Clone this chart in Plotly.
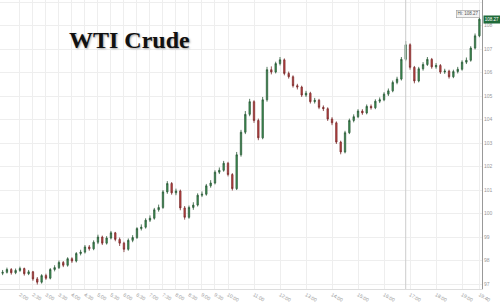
import plotly.graph_objects as go

# 10-minute bars; minute offsets from the first labelled time (2:00)
bar_minutes = list(range(-40, 1070, 10))

opens = [97.46,97.50,97.62,97.48,97.58,97.66,97.44,97.52,97.22,97.08,
         97.36,97.25,97.62,97.70,97.92,97.80,98.08,97.98,98.30,98.36,
         98.58,98.50,98.78,99.00,98.74,98.96,99.18,98.90,98.74,98.48,
         98.86,98.98,99.36,99.42,99.72,99.80,100.16,100.26,100.92,101.28,
         100.88,100.96,100.24,99.84,100.26,100.36,100.78,100.82,101.18,101.30,
         101.76,101.84,102.14,101.66,101.06,102.50,103.46,104.22,104.76,103.96,
         103.22,104.84,106.12,106.02,106.38,106.54,105.96,105.82,105.44,105.38,
         105.04,105.12,104.76,104.82,104.52,104.46,104.02,103.86,103.04,102.62,
         103.44,103.96,104.12,104.36,104.28,104.56,104.50,104.78,104.84,105.08,
         105.22,105.58,105.72,106.56,107.18,106.22,105.64,106.16,106.34,106.56,
         106.24,106.30,106.02,106.06,105.82,106.04,106.14,106.44,106.52,107.04,
         107.56]
highs = [97.60,97.70,97.68,97.66,97.74,97.70,97.60,97.56,97.30,97.42,
         97.44,97.68,97.80,98.00,97.98,98.14,98.14,98.36,98.46,98.66,
         98.66,98.86,99.10,99.06,99.04,99.26,99.22,98.98,98.80,98.94,
         99.08,99.42,99.54,99.80,99.92,100.24,100.38,101.00,101.38,101.34,
         101.06,101.02,100.32,100.34,100.48,100.86,100.94,101.26,101.42,101.84,
         101.96,102.24,102.20,101.72,102.62,103.56,104.36,104.88,104.82,104.04,
         104.96,106.24,106.26,106.46,106.66,106.60,106.04,105.88,105.52,105.44,
         105.22,105.18,104.92,104.88,104.60,104.52,104.10,103.92,103.10,103.52,
         104.04,104.22,104.44,104.44,104.64,104.64,104.86,104.94,105.16,105.32,
         105.66,105.82,106.66,107.34,107.24,106.28,106.24,106.44,106.66,106.62,
         106.40,106.36,106.16,106.12,106.12,106.24,106.52,106.64,107.12,107.66,
         108.32]
lows = [97.38,97.45,97.40,97.42,97.52,97.36,97.38,97.14,96.98,97.02,
        97.18,97.20,97.54,97.64,97.72,97.74,97.90,97.92,98.22,98.30,
        98.42,98.44,98.70,98.66,98.68,98.90,98.82,98.62,98.36,98.42,
        98.78,98.92,99.28,99.36,99.64,99.74,100.08,100.20,100.84,100.80,
        100.78,100.14,99.74,99.78,100.16,100.30,100.70,100.76,101.10,101.24,
        101.68,101.78,101.58,100.98,101.00,102.42,103.38,104.14,103.86,103.12,
        103.16,104.76,105.92,105.96,106.30,105.88,105.74,105.36,105.28,104.96,
        104.96,104.68,104.68,104.44,104.36,103.94,103.76,102.96,102.52,102.56,
        103.38,103.88,104.06,104.20,104.22,104.42,104.44,104.70,104.78,105.00,
        105.16,105.50,105.66,106.48,106.12,105.54,105.58,106.08,106.28,106.16,
        106.16,105.94,105.94,105.74,105.76,105.96,106.08,106.36,106.46,106.98,
        107.50]
closes = [97.50,97.62,97.48,97.58,97.66,97.44,97.52,97.22,97.08,97.36,
          97.25,97.62,97.70,97.92,97.80,98.08,97.98,98.30,98.36,98.58,
          98.50,98.78,99.00,98.74,98.96,99.18,98.90,98.74,98.48,98.86,
          98.98,99.36,99.42,99.72,99.80,100.16,100.26,100.92,101.28,100.88,
          100.96,100.24,99.84,100.26,100.36,100.78,100.82,101.18,101.30,101.76,
          101.84,102.14,101.66,101.06,102.50,103.46,104.22,104.76,103.96,103.22,
          104.84,106.12,106.02,106.38,106.54,105.96,105.82,105.44,105.38,105.04,
          105.12,104.76,104.82,104.52,104.46,104.02,103.86,103.04,102.62,103.44,
          103.96,104.12,104.36,104.28,104.56,104.50,104.78,104.84,105.08,105.22,
          105.58,105.72,106.56,107.18,106.22,105.64,106.16,106.34,106.56,106.24,
          106.30,106.02,106.06,105.82,106.04,106.14,106.44,106.52,107.04,107.56,
          108.27]

tick_minutes = [0,30,60,90,120,150,180,210,240,270,300,330,360,390,420,450,480,
                540,600,660,720,780,840,900,960,1020,1060]
tick_labels = ["2:00","2:30","3:00","3:30","4:00","4:30","5:00","5:30","6:00",
               "6:30","7:00","7:30","8:00","8:30","9:00","9:30","10:00",
               "11:00","12:00","13:00","14:00","15:00","16:00","17:00","18:00",
               "19:00","19:40"]
y_ticks = [97,98,99,100,101,102,103,104,105,106,107,108,109]
last_price = 108.27
session_break = 890

fig = go.Figure()
fig.add_trace(go.Candlestick(
    x=bar_minutes, open=opens, high=highs, low=lows, close=closes,
    increasing=dict(line=dict(color="#2c5a38", width=0.8), fillcolor="#3f9a58"),
    decreasing=dict(line=dict(color="#7a2c2c", width=0.8), fillcolor="#c84646"),
    whiskerwidth=0, showlegend=False,
))

fig.add_shape(type="line", x0=session_break, x1=session_break, y0=0, y1=1,
              xref="x", yref="paper", line=dict(color="#cccccc", width=1))

fig.add_annotation(text="WTI Crude", x=0.268, y=0.862, xref="paper", yref="paper",
                   xanchor="center", yanchor="middle", showarrow=False,
                   font=dict(family="Liberation Serif", size=24, color="#111",
                             weight="bold", shadow="1px 1px 2px #aaa"))
fig.add_annotation(text="Hi: " + str(last_price), x=1062, y=108.49,
                   xref="x", yref="y", xanchor="right", showarrow=False,
                   font=dict(family="Liberation Sans", size=4.5, color="#555"),
                   bgcolor="#f4f4f4", bordercolor="#999", borderwidth=0.6,
                   borderpad=0.8)
fig.add_annotation(text=str(last_price), x=1.0, y=last_price, xref="paper",
                   yref="y", xanchor="left", xshift=1, showarrow=False,
                   font=dict(family="Liberation Sans", size=4.5, color="#fff"),
                   bgcolor="#1f6b3a", borderpad=0.8)

fig.update_layout(
    width=500, height=303,
    margin=dict(l=0, r=18, t=0, b=14),
    paper_bgcolor="white", plot_bgcolor="white",
    boxgap=0.55,
    xaxis=dict(range=[-46, 1066], tickvals=tick_minutes, ticktext=tick_labels,
               showgrid=True, gridcolor="#eeeeee", gridwidth=1,
               tickfont=dict(family="Liberation Sans", size=5, color="#999"),
               rangeslider=dict(visible=False), zeroline=False,
               showline=True, linecolor="#dddddd", ticks=""),
    yaxis=dict(side="right", range=[96.79, 109.085], tickvals=y_ticks,
               showgrid=True, gridcolor="#eeeeee", gridwidth=1,
               tickfont=dict(family="Liberation Sans", size=5, color="#999"),
               showline=True, linecolor="#999999", zeroline=False, ticks=""),
)

fig.write_html("out.html")
